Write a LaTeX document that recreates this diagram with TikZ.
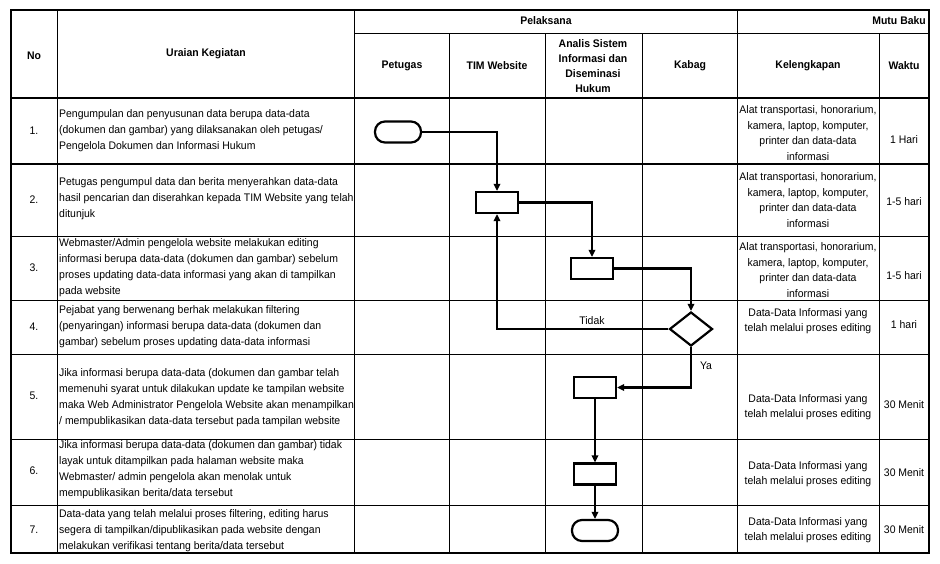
\documentclass[tikz,border=0pt]{standalone}
\usepackage{fontspec}
\setmainfont{Liberation Sans}[FakeStretch=0.95]
\usetikzlibrary{arrows.meta,shapes.geometric}
\tikzset{
  grid/.style={line width=0.9pt},
  gridthick/.style={line width=2pt},
  txt/.style={font=\fontsize{11}{16}\selectfont, inner sep=0pt},
  ktxt/.style={font=\fontsize{11}{15.5}\selectfont, inner sep=0pt, align=center},
  hdr/.style={font=\fontsize{11}{15}\selectfont\bfseries, inner sep=0pt, align=center},
  utxt/.style={txt, align=left, anchor=west},
  procbox/.style={draw, line width=2.2pt, minimum width=42pt, minimum height=21pt, inner sep=0pt},
  term/.style={draw, line width=2.2pt, rounded corners=10pt, minimum width=46pt, minimum height=21pt, inner sep=0pt},
  decis/.style={draw, diamond, line width=2.2pt, aspect=1.26, minimum width=43pt, minimum height=34pt, inner sep=0pt},
  flow/.style={line width=2.2pt, -{Triangle[length=7pt,width=6.5pt]}},
  lbl/.style={font=\fontsize{11}{13}\selectfont, inner sep=0pt}
}
\begin{document}
\begin{tikzpicture}[x=1pt,y=-1pt]
\useasboundingbox (0,0) rectangle (940,563);
% grid
\foreach \yy in {236,300,354,439,505} \draw[grid] (11,\yy) -- (929,\yy);
\draw[line width=1.3pt] (11,98) -- (929,98);
\draw[gridthick] (11,164) -- (929,164);
\draw[grid] (354,33) -- (929,33);
\foreach \xx in {57,354,737} \draw[grid] (\xx,10) -- (\xx,553);
\foreach \xx in {449,545,642,879} \draw[grid] (\xx,33) -- (\xx,553);
\draw[gridthick] (11,10) rectangle (929,553);
% header
\node[hdr] (hno) at (34,56) {No};
\node[hdr] (hur) at (206,54) {Uraian Kegiatan};
\node[hdr] (hpel) at (546,21) {Pelaksana};
\node[hdr, anchor=east] (hmutu) at (926,21) {Mutu Baku};
\node[hdr] (hpet) at (402,66) {Petugas};
\node[hdr] (htim) at (497,66) {TIM Website};
\node[hdr] (hana) at (593,66.5) {Analis Sistem\\Informasi dan\\Diseminasi\\Hukum};
\node[hdr] (hkab) at (690,66) {Kabag};
\node[hdr] (hkel) at (808,66) {Kelengkapan};
\node[hdr] (hwak) at (904,66) {Waktu};
% numbers
\node[txt] (n1) at (34,131) {1.};
\node[txt] (n2) at (34,200) {2.};
\node[txt] (n3) at (34,268) {3.};
\node[txt] (n4) at (34,327) {4.};
\node[txt] (n5) at (34,396) {5.};
\node[txt] (n6) at (34,471) {6.};
\node[txt] (n7) at (34,530) {7.};
% uraian
\node[utxt] (u1) at (59,131) {Pengumpulan dan penyusunan data berupa data-data\\(dokumen dan gambar) yang dilaksanakan oleh petugas/\\Pengelola Dokumen dan Informasi Hukum};
\node[utxt] (u2) at (59,199) {Petugas pengumpul data dan berita menyerahkan data-data\\hasil pencarian dan diserahkan kepada TIM Website yang telah\\ditunjuk};
\node[utxt] (u3) at (59,268) {Webmaster/Admin pengelola website melakukan editing\\informasi berupa data-data (dokumen dan gambar) sebelum\\proses updating data-data informasi yang akan di tampilkan\\pada website};
\node[utxt] (u4) at (59,327) {Pejabat yang berwenang berhak melakukan filtering\\(penyaringan) informasi berupa data-data (dokumen dan\\gambar) sebelum proses updating data-data informasi};
\node[utxt] (u5) at (59,398) {Jika informasi berupa data-data (dokumen dan gambar telah\\memenuhi syarat untuk dilakukan update ke tampilan website\\maka Web Administrator Pengelola Website akan menampilkan\\/ mempublikasikan data-data tersebut pada tampilan website};
\node[utxt] (u6) at (59,470) {Jika informasi berupa data-data (dokumen dan gambar) tidak\\layak untuk ditampilkan pada halaman website maka\\Webmaster/ admin pengelola akan menolak untuk\\mempublikasikan berita/data tersebut};
\node[utxt] (u7) at (59,531) {Data-data yang telah melalui proses filtering, editing harus\\segera di tampilkan/dipublikasikan pada website dengan\\melakukan verifikasi tentang berita/data tersebut};
% kelengkapan
\node[ktxt] (k1) at (808,133) {Alat transportasi, honorarium,\\kamera, laptop, komputer,\\printer dan data-data\\informasi};
\node[ktxt] (k2) at (808,200) {Alat transportasi, honorarium,\\kamera, laptop, komputer,\\printer dan data-data\\informasi};
\node[ktxt] (k3) at (808,270) {Alat transportasi, honorarium,\\kamera, laptop, komputer,\\printer dan data-data\\informasi};
\node[ktxt] (k4) at (808,321) {Data-Data Informasi yang\\telah melalui proses editing};
\node[ktxt] (k5) at (808,407) {Data-Data Informasi yang\\telah melalui proses editing};
\node[ktxt] (k6) at (808,474) {Data-Data Informasi yang\\telah melalui proses editing};
\node[ktxt] (k7) at (808,530) {Data-Data Informasi yang\\telah melalui proses editing};
% waktu
\node[txt] (w1) at (904,140) {1 Hari};
\node[txt] (w2) at (904,202) {1-5 hari};
\node[txt] (w3) at (904,276) {1-5 hari};
\node[txt] (w4) at (904,325) {1 hari};
\node[txt] (w5) at (904,405) {30 Menit};
\node[txt] (w6) at (904,473) {30 Menit};
\node[txt] (w7) at (904,530) {30 Menit};
% flowchart
\node[term] (t1) at (398,132) {};
\node[procbox] (b2) at (497,202.5) {};
\node[procbox] (b3) at (592,268.5) {};
\node[decis] (d4) at (691,329) {};
\node[procbox] (b5) at (595,387.5) {};
\node[procbox] (b6) at (595,474) {};
\node[term] (t7) at (595,530.5) {};
\draw[flow] (t1.east) -| (b2.north);
\draw[flow] (b2.east) -| (b3.north);
\draw[flow] (b3.east) -| (d4.north);
\draw[flow] (d4.west) -| (b2.south);
\node[lbl] (ltidak) at (592,321) {Tidak};
\draw[flow] (d4.south) |- (b5.east);
\node[lbl] (lya) at (706,366) {Ya};
\draw[flow] (b5.south) -- (b6.north);
\draw[flow] (b6.south) -- (t7.north);
\end{tikzpicture}
\end{document}
